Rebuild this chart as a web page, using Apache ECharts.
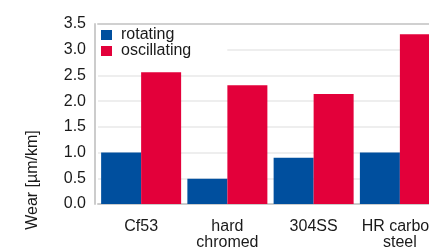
<!DOCTYPE html>
<html>
<head>
<meta charset="utf-8">
<title></title>
<script src="https://cdn.jsdelivr.net/npm/echarts@6/dist/echarts.min.js"></script>
<style>
  html, body { margin: 0; padding: 0; background: #fff; }
  #chart { width: 429px; height: 249px; }
</style>
</head>
<body>
<div id="chart"></div>
<script>
var categories = ['Cf53', 'hard\nchromed', '304SS', 'HR carbon\nsteel'];
var rotating = [1.0, 0.49, 0.9, 1.0];
var oscillating = [2.56, 2.31, 2.14, 3.3];
var seriesNames = ['rotating', 'oscillating'];

var font = '"Liberation Sans", Arial, sans-serif';
var txt = '#1a1a1a';

var option = {
    animation: false,
    textStyle: { fontFamily: font },
    grid: { left: 98, top: 24, width: 345, bottom: 45, containLabel: false, outerBoundsMode: 'none' },
    legend: {
        data: seriesNames,
        orient: 'vertical',
        left: 96,
        top: 25,
        padding: [2, 36, 6, 5],
        backgroundColor: '#fff',
        icon: 'rect',
        itemWidth: 11,
        itemHeight: 10,
        itemGap: 0,
        textStyle: { fontSize: 16, lineHeight: 16, color: txt, fontFamily: font, padding: [0, 0, 0, 4] }
    },
    xAxis: [{
        type: 'category',
        data: categories,
        axisLine: { lineStyle: { color: '#cccccc', width: 2 } },
        axisTick: { show: false },
        axisLabel: { interval: 0, fontSize: 16, color: txt, margin: 15, lineHeight: 16, fontFamily: font }
    }, {
        type: 'category',
        position: 'top',
        data: categories,
        axisLine: { lineStyle: { color: '#d0d0d0', width: 2 } },
        axisTick: { show: false },
        axisLabel: { show: false }
    }],
    yAxis: {
        type: 'value',
        min: 0,
        max: 3.5,
        interval: 0.5,
        offset: 3,
        name: 'Wear [µm/km]',
        nameLocation: 'middle',
        nameGap: 54,
        nameTextStyle: { fontSize: 16, color: txt, fontFamily: font, padding: [0, 132, 0, 0] },
        axisLine: { show: true, lineStyle: { color: '#cccccc', width: 2 } },
        axisTick: { show: false },
        axisLabel: {
            fontSize: 16, color: txt, margin: 9, fontFamily: font,
            formatter: function (v) { return v.toFixed(1); }
        },
        splitLine: { lineStyle: { color: '#e8e8e8', width: 1.5 } }
    },
    series: [{
        name: seriesNames[0],
        type: 'bar',
        data: rotating,
        barWidth: 40,
        barGap: '0%',
        itemStyle: { color: '#004f9e' }
    }, {
        name: seriesNames[1],
        type: 'bar',
        data: oscillating,
        barWidth: 40,
        barGap: '0%',
        itemStyle: { color: '#e3003a' }
    }]
};

var myChart = echarts.init(document.getElementById('chart'));
myChart.setOption(option);
</script>
</body>
</html>
